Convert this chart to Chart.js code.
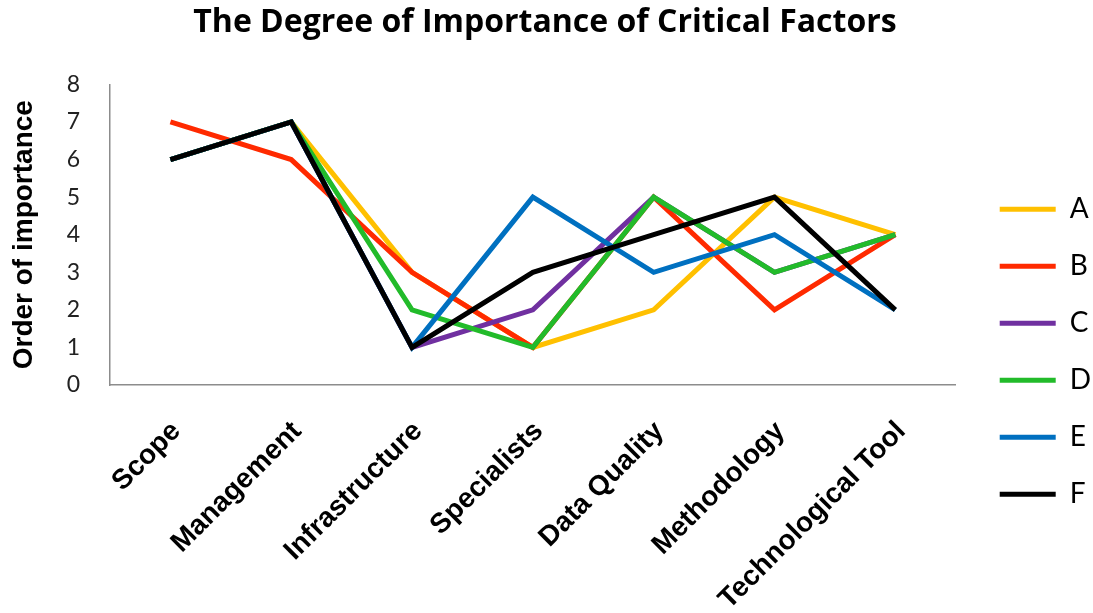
<!DOCTYPE html>
<html>
<head>
<meta charset="utf-8">
<script src="https://cdn.jsdelivr.net/npm/chart.js@4.4.1/dist/chart.umd.min.js"></script>
<style>
  html, body { margin: 0; padding: 0; background: #ffffff; }
  #wrap { width: 1093px; height: 613px; position: relative; }
</style>
</head>
<body>
<div id="wrap"><canvas id="factorChart"></canvas></div>
<script>
// ======================================================
// DATA
// ======================================================

const categories = ["Scope", "Management", "Infrastructure", "Specialists", "Data Quality", "Methodology", "Technological Tool"];

const seriesA = [6, 7, 3, 1, 2, 5, 4];
const seriesB = [7, 6, 3, 1, 5, 2, 4];
const seriesC = [6, 7, 1, 2, 5, 3, 4];
const seriesD = [6, 7, 2, 1, 5, 3, 4];
const seriesE = [6, 7, 1, 5, 3, 4, 2];
const seriesF = [6, 7, 1, 3, 4, 5, 2];

const seriesNames = ["A", "B", "C", "D", "E", "F"];
const seriesColors = ["#FFC000", "#FF2A00", "#7030A0", "#22BB2A", "#0070C0", "#000000"];
const yTicks = [0, 1, 2, 3, 4, 5, 6, 7, 8];

// ======================================================
// CHART
// ======================================================

const allSeries = [seriesA, seriesB, seriesC, seriesD, seriesE, seriesF];

const datasets = allSeries.map(function (values, i) {
    return {
        label: seriesNames[i],
        data: values,
        borderColor: seriesColors[i],
        backgroundColor: seriesColors[i],
        borderWidth: 5,
        pointRadius: 0,
        tension: 0,
        fill: false,
        order: allSeries.length - i   // later series drawn on top
    };
});

const canvas = document.getElementById("factorChart");

if (canvas) {

    const ctx = canvas.getContext("2d");

    new Chart(ctx, {
        type: "line",
        data: {
            labels: categories,
            datasets: datasets
        },
        options: {
            responsive: true,
            maintainAspectRatio: false,
            animation: false,
            layout: {
                padding: { left: -11, right: -8, top: 2, bottom: 0 }
            },
            plugins: {
                title: {
                    display: true,
                    text: "The Degree of Importance of Critical Factors",
                    color: "#000000",
                    font: { family: "Open Sans", size: 32, weight: "bold" },
                    padding: { top: 2, bottom: 42 }
                },
                legend: {
                    position: "right",
                    title: {
                        display: true,
                        text: " ",
                        padding: { top: 74, bottom: 0 }
                    },
                    labels: {
                        color: "#000000",
                        font: { family: "Lato", size: 28 },
                        boxWidth: 56,
                        boxHeight: 5,
                        padding: 29,
                        sort: function (a, b) { return a.datasetIndex - b.datasetIndex; },
                        generateLabels: function (chart) {
                            const items = Chart.defaults.plugins.legend.labels.generateLabels(chart);
                            items.forEach(function (item) {
                                item.fillStyle = item.strokeStyle;
                                item.lineWidth = 0;
                            });
                            return items;
                        }
                    }
                },
                tooltip: { enabled: false }
            },
            scales: {
                x: {
                    offset: true,
                    grid: { display: false, drawTicks: false },
                    border: { display: true, color: "#8c8c8c", width: 1.5 },
                    ticks: {
                        color: "#000000",
                        autoSkip: false,
                        minRotation: 45,
                        maxRotation: 45,
                        padding: 30,
                        labelOffset: 6,
                        font: { family: "Liberation Sans", size: 28, weight: "bold" }
                    },
                    afterFit: function (scale) {
                        scale.height = 228;
                        scale.paddingLeft = 0;
                        scale.paddingRight = 0;
                    }
                },
                y: {
                    min: 0,
                    max: 8,
                    afterBuildTicks: function (scale) {
                        scale.ticks = yTicks.map(function (v) { return { value: v }; });
                    },
                    afterFit: function (scale) { scale.width = 121; },
                    grid: { display: false, drawTicks: false },
                    border: { display: true, color: "#8c8c8c", width: 1.5 },
                    ticks: {
                        color: "#222222",
                        padding: 30,
                        font: { family: "Lato", size: 23 }
                    },
                    title: {
                        display: true,
                        text: "Order of importance",
                        color: "#000000",
                        padding: { top: 18, bottom: 10 },
                        font: { family: "Liberation Sans", size: 28, weight: "bold" }
                    }
                },
                yRightGap: {
                    position: "right",
                    display: true,
                    grid: { display: false, drawTicks: false },
                    border: { display: false },
                    ticks: { display: false },
                    afterFit: function (scale) { scale.width = 15; }
                }
            }
        }
    });

}
</script>
</body>
</html>
